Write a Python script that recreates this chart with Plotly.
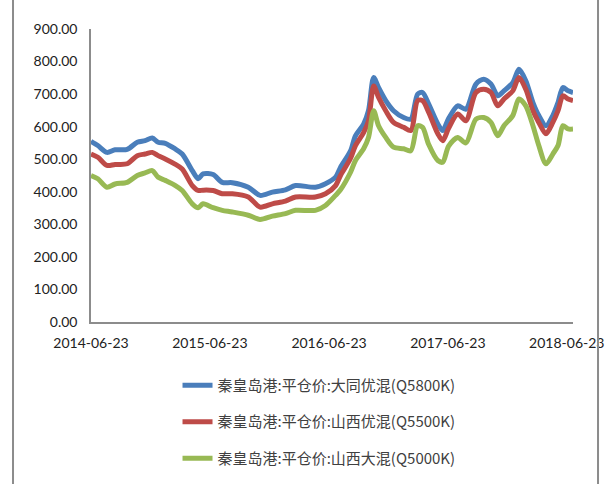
import plotly.graph_objects as go

dates = [
    "2014-06-23", "2014-07-14", "2014-08-11", "2014-09-05", "2014-10-12", "2014-11-12",
    "2014-12-06", "2014-12-28", "2015-01-15", "2015-02-06", "2015-03-08", "2015-03-30",
    "2015-04-30", "2015-05-18", "2015-06-02", "2015-07-03", "2015-07-31", "2015-08-31",
    "2015-10-19", "2015-11-24", "2016-01-01", "2016-02-10", "2016-03-12", "2016-05-12",
    "2016-06-12", "2016-07-13", "2016-07-28", "2016-08-28", "2016-09-12", "2016-10-07",
    "2016-10-22", "2016-11-07", "2016-11-22", "2016-12-14", "2017-01-07", "2017-02-07",
    "2017-03-01", "2017-03-22", "2017-04-06", "2017-04-25", "2017-05-23", "2017-06-07",
    "2017-06-25", "2017-07-23", "2017-08-17", "2017-09-17", "2017-10-11", "2017-11-02",
    "2017-11-23", "2017-12-12", "2018-01-08", "2018-01-27", "2018-02-17", "2018-03-11",
    "2018-03-29", "2018-04-20", "2018-05-11", "2018-05-27", "2018-06-11", "2018-06-27",
    "2018-07-12",
]

datong_q5800 = [
    555, 542, 521, 529, 530, 552, 557, 565, 552, 549, 532, 516,
    465, 440, 455, 453, 429, 428, 414, 389, 399, 406, 419, 414,
    425, 445, 475, 526, 572, 608, 649, 751, 720, 680, 649, 628,
    623, 700, 705, 669, 608, 588, 625, 664, 654, 731, 746, 731,
    695, 710, 735, 776, 741, 674, 634, 603, 634, 674, 720, 710,
    705,
]

shanxi_q5500 = [
    516, 506, 481, 484, 486, 511, 516, 521, 511, 501, 485, 470,
    419, 404, 405, 404, 394, 394, 384, 353, 363, 371, 384, 384,
    394, 419, 450, 503, 542, 582, 618, 725, 690, 649, 613, 598,
    588, 680, 680, 644, 578, 557, 595, 639, 618, 705, 715, 705,
    664, 685, 710, 751, 715, 649, 613, 578, 613, 649, 695, 685,
    680,
]

shanxi_q5000 = [
    450, 440, 414, 424, 429, 450, 458, 465, 445, 435, 420, 404,
    363, 351, 363, 351, 343, 338, 328, 315, 325, 333, 343, 343,
    358, 389, 406, 460, 496, 532, 567, 649, 603, 567, 537, 532,
    526, 603, 598, 545, 496, 491, 540, 567, 550, 623, 628, 613,
    572, 603, 634, 685, 664, 603, 542, 486, 516, 542, 603, 593,
    593,
]

names = [
    "秦皇岛港:平仓价:大同优混(Q5800K)",
    "秦皇岛港:平仓价:山西优混(Q5500K)",
    "秦皇岛港:平仓价:山西大混(Q5000K)",
]
colors = ["#4A7EBB", "#BE4B48", "#98B954"]
series = [datong_q5800, shanxi_q5500, shanxi_q5000]

tick_dates = ["2014-06-23", "2015-06-23", "2016-06-23", "2017-06-23", "2018-06-23"]
y_ticks = [0, 100, 200, 300, 400, 500, 600, 700, 800, 900]

fig = go.Figure()
for i, (nm, col, vals) in enumerate(zip(names, colors, series)):
    fig.add_trace(go.Scatter(
        x=dates, y=vals, name=nm, mode="lines",
        line=dict(color=col, width=5, shape="spline", smoothing=0.8),
        legendgroup=f"g{i}",
    ))

font_main = "Lato, 'Noto Sans CJK SC', sans-serif"

fig.update_layout(
    width=613, height=484,
    margin=dict(l=91, r=40, t=29, b=162, autoexpand=False),
    paper_bgcolor="white", plot_bgcolor="white",
    font=dict(family=font_main, size=14, color="#222222"),
    showlegend=True,
    legend=dict(
        x=0.1795, y=-0.16, xanchor="left", yanchor="top",
        orientation="v", tracegroupgap=14,
        font=dict(family="'Noto Sans CJK SC', Lato, sans-serif", size=15, color="#404040"),
        bgcolor="rgba(0,0,0,0)",
    ),
    xaxis=dict(
        type="date", range=["2014-06-23", "2018-07-12"],
        tickvals=tick_dates, ticktext=tick_dates,
        showgrid=False, zeroline=False,
        showline=True, linecolor="#8C8C8C", linewidth=1.5,
        ticks="", ticklabelstandoff=7,
        tickfont=dict(size=14, color="#222222"),
    ),
    yaxis=dict(
        range=[0, 900], tickvals=y_ticks,
        ticktext=[f"{v:.2f}" for v in y_ticks],
        showgrid=False, zeroline=False,
        showline=True, linecolor="#8C8C8C", linewidth=1.5,
        ticks="", ticklabelstandoff=9,
        tickfont=dict(size=14, color="#222222"),
    ),
    shapes=[
        dict(type="line", xref="paper", yref="paper", x0=-0.1618, x1=-0.1618,
             y0=-0.7, y1=1.3, line=dict(color="#8C8C8C", width=2)),
        dict(type="line", xref="paper", yref="paper", x0=1.0519, x1=1.0519,
             y0=-0.7, y1=1.3, line=dict(color="#8C8C8C", width=2)),
    ],
)

fig.write_html(
    "out.html",
    config={"displayModeBar": False},
    post_script="document.body.style.margin='0';document.body.style.overflow='hidden';",
)
